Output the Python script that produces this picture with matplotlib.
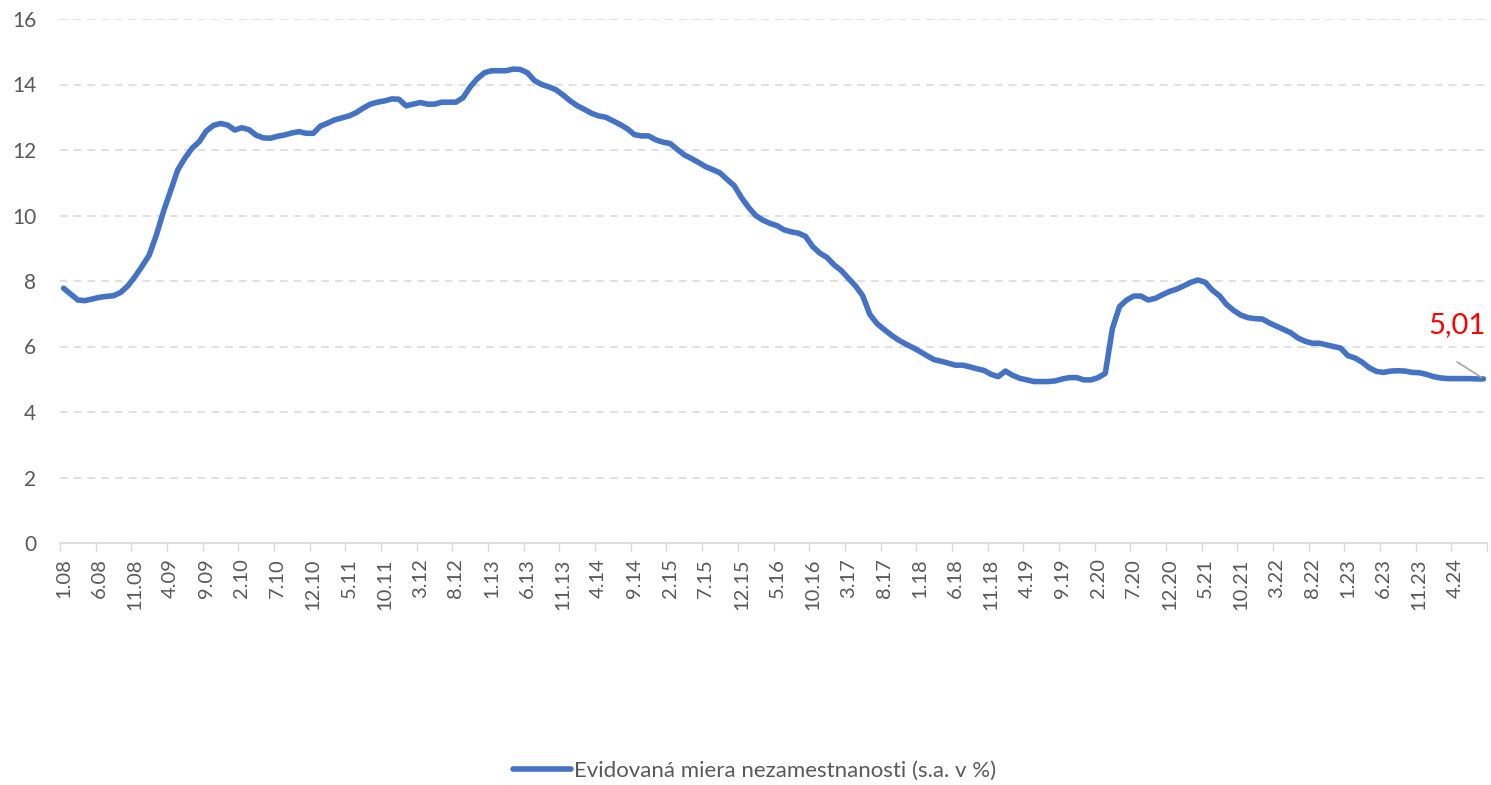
import matplotlib
matplotlib.use("Agg")
import matplotlib.pyplot as plt
import numpy as np

# Monthly registered unemployment rate (s.a., %), 1.08 .. 8.24
rate = [
    7.78, 7.60, 7.42, 7.40, 7.45, 7.50, 7.53, 7.55, 7.65, 7.85,
    8.13, 8.45, 8.79, 9.40, 10.12, 10.75, 11.39, 11.75, 12.05, 12.25,
    12.58, 12.75, 12.81, 12.76, 12.61, 12.68, 12.62, 12.45, 12.37, 12.36,
    12.42, 12.46, 12.52, 12.56, 12.51, 12.51, 12.73, 12.82, 12.92, 12.98,
    13.04, 13.14, 13.28, 13.40, 13.46, 13.50, 13.56, 13.55, 13.35, 13.40,
    13.45, 13.40, 13.40, 13.46, 13.46, 13.46, 13.60, 13.93, 14.18, 14.36,
    14.42, 14.42, 14.42, 14.47, 14.46, 14.36, 14.12, 14.00, 13.93, 13.84,
    13.68, 13.50, 13.35, 13.24, 13.12, 13.04, 13.00, 12.89, 12.78, 12.65,
    12.47, 12.43, 12.43, 12.31, 12.24, 12.20, 12.02, 11.85, 11.74, 11.62,
    11.49, 11.40, 11.30, 11.10, 10.91, 10.55, 10.25, 10.00, 9.86, 9.76,
    9.69, 9.56, 9.50, 9.46, 9.36, 9.05, 8.85, 8.72, 8.49, 8.32,
    8.08, 7.85, 7.55, 6.98, 6.70, 6.52, 6.35, 6.20, 6.08, 5.97,
    5.85, 5.72, 5.60, 5.55, 5.49, 5.43, 5.43, 5.38, 5.32, 5.27,
    5.15, 5.08, 5.25, 5.12, 5.03, 4.98, 4.93, 4.93, 4.93, 4.95,
    5.01, 5.05, 5.05, 4.98, 4.98, 5.05, 5.18, 6.55, 7.22, 7.42,
    7.54, 7.54, 7.42, 7.47, 7.58, 7.68, 7.75, 7.85, 7.96, 8.03,
    7.96, 7.72, 7.55, 7.28, 7.10, 6.96, 6.88, 6.85, 6.84, 6.72,
    6.62, 6.52, 6.42, 6.26, 6.16, 6.10, 6.10, 6.05, 6.00, 5.95,
    5.72, 5.65, 5.52, 5.35, 5.24, 5.21, 5.25, 5.26, 5.25, 5.21,
    5.20, 5.15, 5.08, 5.04, 5.02, 5.02, 5.02, 5.02, 5.01, 5.01,
]

tick_labels = [
    "1.08", "6.08", "11.08", "4.09", "9.09", "2.10", "7.10", "12.10",
    "5.11", "10.11", "3.12", "8.12", "1.13", "6.13", "11.13", "4.14",
    "9.14", "2.15", "7.15", "12.15", "5.16", "10.16", "3.17", "8.17",
    "1.18", "6.18", "11.18", "4.19", "9.19", "2.20", "7.20", "12.20",
    "5.21", "10.21", "3.22", "8.22", "1.23", "6.23", "11.23", "4.24",
]

series_name = "Evidovaná miera nezamestnanosti (s.a. v %)"
last_label = "5,01"

plt.rcParams['font.family'] = ['Lato', 'DejaVu Sans']

W, H = 1491, 785
fig = plt.figure(figsize=(W / 100, H / 100), dpi=100)
ax = fig.add_axes([60 / W, 1 - 543 / H, (1487 - 60) / W, (543 - 19) / H])

x = np.arange(len(rate))
line_color = "#4472C4"
ax.plot(x, rate, color=line_color, lw=4.0, solid_capstyle="round",
        solid_joinstyle="round", label=series_name, zorder=3)

ax.set_xlim(-0.5, len(rate) - 0.5)
ax.set_ylim(0, 16)
ax.set_yticks(np.arange(0, 17, 2))

ax.set_xticks(np.arange(0, 5 * len(tick_labels), 5))
ax.set_xticklabels(tick_labels, rotation=90, fontsize=14.5, color="#595959")
ax.set_xticks(np.arange(-0.5, len(rate), 5), minor=True)
ax.tick_params(axis="x", which="major", length=0, pad=11)
ax.tick_params(axis="x", which="minor", length=6, color="#D9D9D9", width=1)
ax.tick_params(axis="y", length=0, pad=17, labelsize=15, labelcolor="#595959")

for v in range(2, 17, 2):
    ax.axhline(v, color="#D9D9D9", lw=1.1, ls=(0, (5, 4)), zorder=1)

for s in ["top", "right", "left"]:
    ax.spines[s].set_visible(False)
ax.spines["bottom"].set_color("#D9D9D9")
ax.spines["bottom"].set_linewidth(1.2)

# annotation of last value
xl = len(rate) - 1
ax.text(xl - 3.7, 6.41, last_label, color="red", fontsize=21,
        ha="center", va="baseline")
ax.annotate("", xy=(xl - 0.3, rate[-1] + 0.05), xytext=(xl - 3.7, 5.53),
            textcoords="data",
            arrowprops=dict(arrowstyle="-", color="#A6A6A6", lw=1.2,
                            shrinkA=0, shrinkB=0))

fig.legend(loc="center", bbox_to_anchor=(755 / W, 1 - 771 / H), frameon=False,
           fontsize=16, handlelength=2.6, handletextpad=0.15,
           labelcolor="#595959")

fig.savefig("out.png", dpi=100)
